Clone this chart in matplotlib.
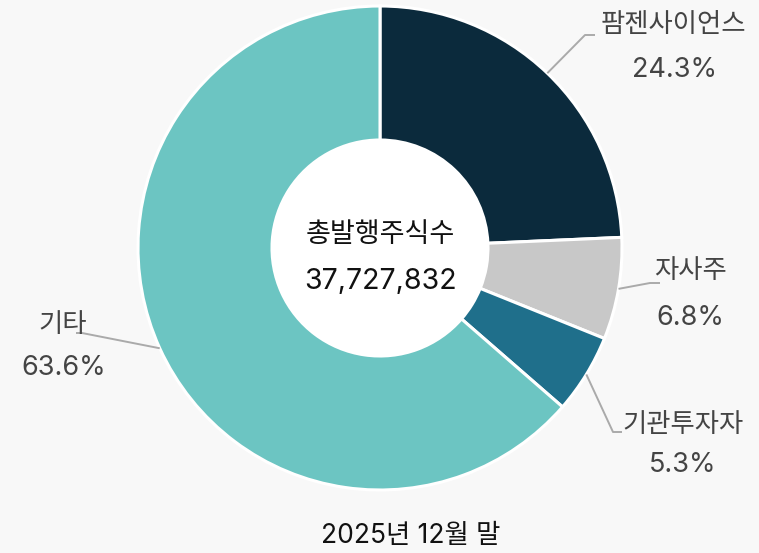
import matplotlib
matplotlib.use("Agg")
import matplotlib.pyplot as plt
import numpy as np

plt.rcParams['font.family'] = ['Noto Sans CJK KR', 'DejaVu Sans']
LATIN = ['Inter', 'Noto Sans CJK KR', 'DejaVu Sans']

labels = ['팜젠사이언스', '자사주', '기관투자자', '기타']
values = [24.3, 6.8, 5.3, 63.6]
colors = ['#0b2a3c', '#c8c8c8', '#1f6f8b', '#6cc5c2']
center_title = '총발행주식수'
center_value = '37,727,832'
caption = '2025년 12월 말'

W, H = 759, 553
BG = '#f8f8f8'
fig = plt.figure(figsize=(W / 100, H / 100), dpi=100, facecolor=BG)
ax = fig.add_axes([0, 0, 1, 1])
ax.set_facecolor(BG)

cx, cy = 380, 248
R_out, R_in = 242, 108

# pie in pixel coordinates (y axis inverted -> counterclock=True gives clockwise on screen)
wedges, _ = ax.pie(values, colors=colors, startangle=-90, counterclock=True,
                   radius=R_out, center=(cx, cy), frame=True,
                   wedgeprops=dict(width=R_out - R_in, edgecolor='white', linewidth=2.2))
ax.set_xlim(0, W)
ax.set_ylim(H, 0)
ax.set_aspect('equal')
ax.axis('off')

# inner white circle
ax.add_patch(plt.Circle((cx, cy), R_in, color='white', zorder=3))

ax.text(cx, 235, center_title, ha='center', va='center', fontsize=19.5, color='#111111', zorder=4)
ax.text(cx, 282, center_value, ha='center', va='center', fontsize=20.5, color='#111111', zorder=4,
        family=LATIN)

# label layout (elbow, line end, text center)
elbows = [(585, 35), (650, 283), (613, 432), (82, 333)]
ends = [(595, 35), (660, 283), (622, 432), (76, 333)]
name_pos = [(673, 24), (690, 270), (683, 424), (63, 324)]
pct_pos = [(674, 70), (690, 318), (683, 465), (64, 368)]

cum = np.cumsum([0] + values[:-1])
for i, (lab, v) in enumerate(zip(labels, values)):
    mid = (cum[i] + v / 2) / 100 * 2 * np.pi
    # angle measured clockwise from top
    sx = cx + R_out * np.sin(mid)
    sy = cy - R_out * np.cos(mid)
    ex, ey = elbows[i]
    fx, fy = ends[i]
    ax.plot([sx, ex, fx], [sy, ey, fy], color='#aaaaaa', lw=1.4, zorder=1,
            solid_capstyle='butt')
    ax.text(*name_pos[i], lab, ha='center', va='center', fontsize=19, color='#444444')
    ax.text(*pct_pos[i], f'{v:.1f}%', ha='center', va='center', fontsize=19.5, color='#444444',
            family=LATIN)

ax.text(411, 536, caption, ha='center', va='center', fontsize=19, color='#111111', family=LATIN)

fig.savefig('out.png', dpi=100, facecolor=BG)
